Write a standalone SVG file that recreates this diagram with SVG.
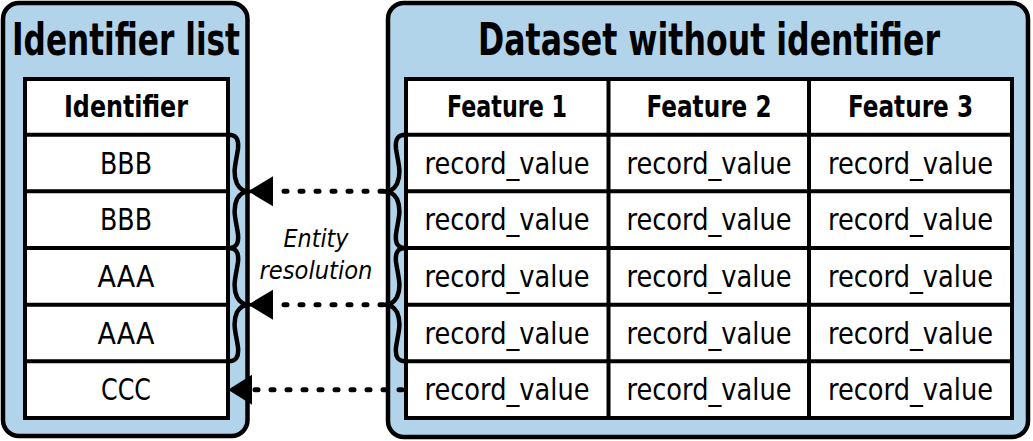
<svg xmlns="http://www.w3.org/2000/svg" width="1033" height="441" viewBox="0 0 1033 441">
<style>
.box{fill:#b1d4ea;stroke:#000;stroke-width:4.5}
.cell{fill:#fff;stroke:#000;stroke-width:4}
.ln{stroke:#000;stroke-width:4;fill:none}
text{font-family:"DejaVu Sans Condensed","Liberation Sans Narrow","DejaVu Sans","Liberation Sans",Arial,sans-serif;font-stretch:condensed;fill:#000;text-anchor:middle}
.title{font-size:44px;font-weight:bold}
.hdr{font-size:31px;font-weight:bold}
.val{font-size:30px}
.lbl{font-size:25px;font-style:italic}
.brace{fill:none;stroke:#000;stroke-width:4.5;stroke-linecap:round;stroke-linejoin:round}
.dot{stroke:#000;stroke-width:5;stroke-linecap:round;stroke-dasharray:3 13;fill:none}
.head{fill:#000}
</style>
<defs>
<path id="br" d="M0,0 C8,0 11,4 10,14 C8,28 4,38 9,49 C12,54.7 17,56.7 21,56.7 C17,56.7 12,58.7 9,64.3 C4,75.3 8,85.3 10,99.3 C11,109.3 8,113.3 0,113.3"/>
</defs>
<g id="identifier-list">
<rect class="box" x="3" y="3" width="244.5" height="433" rx="16"/>
<text class="title" x="126" y="55" textLength="228" lengthAdjust="spacingAndGlyphs">Identifier list</text>
<rect class="cell" x="25" y="79" width="203" height="339"/>
<path class="ln" d="M25,134.7H228M25,191.3H228M25,248H228M25,304.7H228M25,361.3H228"/>
<text class="hdr" x="126" y="117" textLength="124" lengthAdjust="spacingAndGlyphs">Identifier</text>
<text class="val" x="126" y="173.5" textLength="52" lengthAdjust="spacingAndGlyphs">BBB</text>
<text class="val" x="126" y="230" textLength="52" lengthAdjust="spacingAndGlyphs">BBB</text>
<text class="val" x="126" y="287" textLength="57" lengthAdjust="spacingAndGlyphs">AAA</text>
<text class="val" x="126" y="343.5" textLength="57" lengthAdjust="spacingAndGlyphs">AAA</text>
<text class="val" x="126" y="400" textLength="50" lengthAdjust="spacingAndGlyphs">CCC</text>
</g>
<g id="dataset">
<rect class="box" x="388" y="3" width="640" height="434" rx="16"/>
<text class="title" x="709" y="55" textLength="462" lengthAdjust="spacingAndGlyphs">Dataset without identifier</text>
<rect class="cell" x="406" y="79" width="606" height="339"/>
<path class="ln" d="M406,134.7H1012M406,191.3H1012M406,248H1012M406,304.7H1012M406,361.3H1012M608.5,79V418M809,79V418"/>
<text class="hdr" x="507" y="117" textLength="120" lengthAdjust="spacingAndGlyphs">Feature 1</text>
<text class="hdr" x="709" y="117" textLength="125" lengthAdjust="spacingAndGlyphs">Feature 2</text>
<text class="hdr" x="910.5" y="117" textLength="125" lengthAdjust="spacingAndGlyphs">Feature 3</text>
<g class="val">
<text x="507" y="173.5" textLength="165" lengthAdjust="spacingAndGlyphs">record_value</text>
<text x="709" y="173.5" textLength="165" lengthAdjust="spacingAndGlyphs">record_value</text>
<text x="910.5" y="173.5" textLength="165" lengthAdjust="spacingAndGlyphs">record_value</text>
<text x="507" y="230" textLength="165" lengthAdjust="spacingAndGlyphs">record_value</text>
<text x="709" y="230" textLength="165" lengthAdjust="spacingAndGlyphs">record_value</text>
<text x="910.5" y="230" textLength="165" lengthAdjust="spacingAndGlyphs">record_value</text>
<text x="507" y="287" textLength="165" lengthAdjust="spacingAndGlyphs">record_value</text>
<text x="709" y="287" textLength="165" lengthAdjust="spacingAndGlyphs">record_value</text>
<text x="910.5" y="287" textLength="165" lengthAdjust="spacingAndGlyphs">record_value</text>
<text x="507" y="343.5" textLength="165" lengthAdjust="spacingAndGlyphs">record_value</text>
<text x="709" y="343.5" textLength="165" lengthAdjust="spacingAndGlyphs">record_value</text>
<text x="910.5" y="343.5" textLength="165" lengthAdjust="spacingAndGlyphs">record_value</text>
<text x="507" y="400" textLength="165" lengthAdjust="spacingAndGlyphs">record_value</text>
<text x="709" y="400" textLength="165" lengthAdjust="spacingAndGlyphs">record_value</text>
<text x="910.5" y="400" textLength="165" lengthAdjust="spacingAndGlyphs">record_value</text>
</g>
</g>
<g id="connectors">
<use href="#br" class="brace" transform="translate(228,134.7)"/>
<use href="#br" class="brace" transform="translate(228,248)"/>
<use href="#br" class="brace" transform="translate(406,134.7) scale(-1,1)"/>
<use href="#br" class="brace" transform="translate(406,248) scale(-1,1)"/>
<path class="dot" d="M383,191.3H276"/>
<path class="dot" d="M383,304.7H276"/>
<path class="dot" d="M402,389.7H254"/>
<polygon class="head" points="248,191.3 273,176.3 273,206.3"/>
<polygon class="head" points="248,304.7 273,289.7 273,319.7"/>
<polygon class="head" points="228,389.7 252,374.7 252,404.7"/>
<text class="lbl" x="316" y="247" textLength="65" lengthAdjust="spacingAndGlyphs">Entity</text>
<text class="lbl" x="316" y="279" textLength="113" lengthAdjust="spacingAndGlyphs">resolution</text>
</g>
</svg>
